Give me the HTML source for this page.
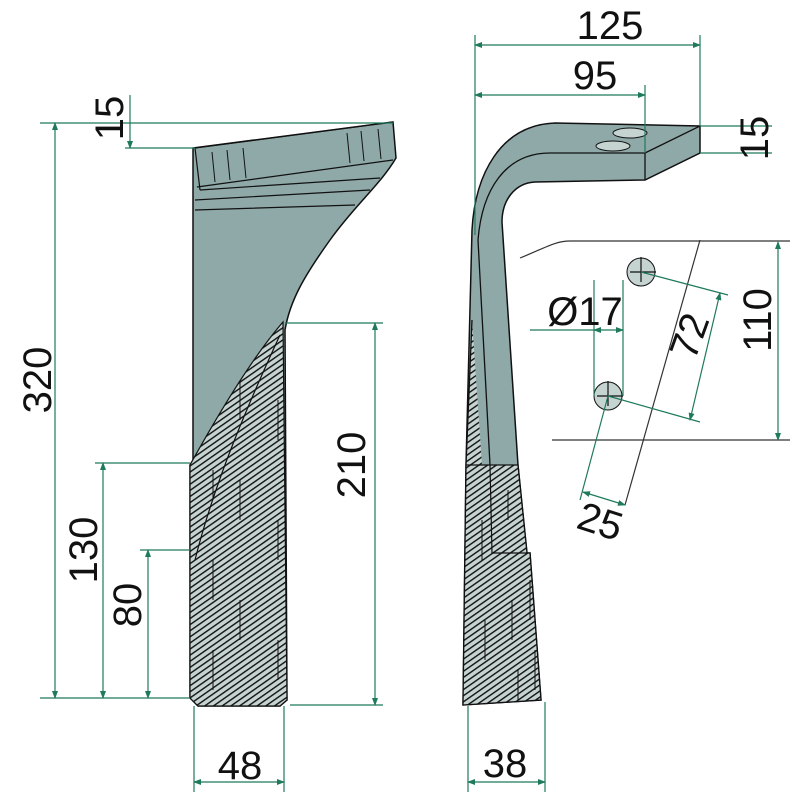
<!DOCTYPE html>
<html><head><style>html,body{margin:0;padding:0;background:#fff}svg{display:block}</style></head>
<body>
<svg width="800" height="800" viewBox="0 0 800 800" xmlns="http://www.w3.org/2000/svg" font-family="Liberation Sans, sans-serif">
<defs>
<pattern id="h" patternUnits="userSpaceOnUse" width="5" height="5" patternTransform="rotate(-35)">
<rect width="5" height="5" fill="#c5d3d1"/>
<line x1="0" y1="0.7" x2="5" y2="0.7" stroke="#111" stroke-width="1.4"/>
</pattern>
<marker id="a" markerWidth="8" markerHeight="8" refX="7" refY="3" orient="auto-start-reverse" markerUnits="userSpaceOnUse"><path d="M0,0 L8,3 L0,6 z" fill="#1f7a5c"/></marker>
</defs>

<!-- LEFT PART -->
<path d="M193,148 L393,122 L396,158 C380,185 355,205 330,240 C305,275 290,300 285,330 L287,700 L280,706 L198,706 L190,698 L190,465 L193,460 Z" fill="#8fa9a8" stroke="#111" stroke-width="1.5"/>
<path d="M283,322 L287,700 L280,706 L198,706 L190,698 L190,465 C215,420 250,360 283,322 Z" fill="url(#h)" stroke="#111" stroke-width="1.2"/>
<path d="M280,335 C250,400 215,480 195,560" fill="none" stroke="#111" stroke-width="1.2"/>
<path d="M213,470 L213,500 M213,560 L213,600 M213,650 L213,690 M240,380 L240,420 M240,480 L240,520 M240,600 L240,640 M278,400 L278,440 M278,520 L278,560 M278,640 L278,680" stroke="#111" stroke-width="1"/>
<path d="M195,148 L393,122 M197,187 L393,160 M200,190 L380,178 M195,200 L370,190 M195,210 L355,205 M195,148 L200,190" fill="none" stroke="#111" stroke-width="1.2"/>
<path d="M212,152 L215,182 M227,150 L230,180 M243,148 L246,178 M347,133 L350,163 M361,131 L364,161 M378,129 L381,159" stroke="#111" stroke-width="1"/>

<!-- RIGHT PART -->
<path d="M472,230 C475,175 500,125 555,123 L700,126 L700,153 L645,180 L535,182 C515,183 502,200 502,222 L518,465 L527,553 L530,553 L541,700 L463,705 L466,465 Z" fill="#8fa9a8" stroke="#111" stroke-width="1.5"/>
<path d="M472,320 L466,465 L463,705 L541,700 L530,553 L527,553 L518,465 L482,465 Z" fill="url(#h)" stroke="none"/>
<path d="M463,705 L541,700 L530,553 L527,553 L518,465 L466,465 M472,320 L466,465 L463,705" fill="none" stroke="#111" stroke-width="1.3"/>
<path d="M645,153 L700,126 M645,153 L645,180 M645,153 L550,153 C505,153 482,190 478,240 L490,465" fill="none" stroke="#111" stroke-width="1.3"/>
<ellipse cx="630" cy="133" rx="17" ry="5" fill="#c5d3d1" stroke="#111"/>
<ellipse cx="613" cy="146" rx="17" ry="5" fill="#c5d3d1" stroke="#111"/>
<path d="M490,465 L492,553 L527,553" fill="none" stroke="#111" stroke-width="1.2"/>
<path d="M508,490 L508,520 M512,600 L512,640 M518,670 L518,700 M482,520 L482,560 M485,620 L485,660 M530,580 L530,620 M535,650 L535,690" stroke="#111" stroke-width="1"/>

<!-- detail -->
<path d="M520,258 C545,248 555,241 570,241 L790,241 M552,440 L790,440 M700,240 L625,505" fill="none" stroke="#333" stroke-width="1.2"/>
<circle cx="641" cy="272" r="14" fill="#c5d3d1" stroke="#111"/>
<circle cx="608" cy="396" r="14" fill="#c5d3d1" stroke="#111"/>
<path d="M641,257 L641,282 M630,272 L656,272 M608,381 L608,406 M597,396 L623,396" stroke="#111" stroke-width="1.2"/>

<g stroke="#1f7a5c" stroke-width="1.2" fill="none">
<line x1="40" y1="123" x2="393" y2="123"/>
<line x1="40" y1="698" x2="190" y2="698"/>
<line x1="55" y1="123" x2="55" y2="698" marker-start="url(#a)" marker-end="url(#a)"/>
<line x1="125" y1="148" x2="195" y2="148"/>
<line x1="130" y1="95" x2="130" y2="148" marker-end="url(#a)"/>
<line x1="95" y1="463" x2="190" y2="463"/>
<line x1="103" y1="463" x2="103" y2="698" marker-start="url(#a)" marker-end="url(#a)"/>
<line x1="140" y1="550" x2="190" y2="550"/>
<line x1="148" y1="550" x2="148" y2="698" marker-start="url(#a)" marker-end="url(#a)"/>
<line x1="285" y1="323" x2="383" y2="323"/>
<line x1="290" y1="705" x2="383" y2="705"/>
<line x1="375" y1="323" x2="375" y2="705" marker-start="url(#a)" marker-end="url(#a)"/>
<line x1="194" y1="706" x2="194" y2="792"/>
<line x1="284" y1="706" x2="284" y2="792"/>
<line x1="194" y1="782" x2="284" y2="782" marker-start="url(#a)" marker-end="url(#a)"/>
<line x1="475" y1="35" x2="475" y2="235"/>
<line x1="700" y1="35" x2="700" y2="126"/>
<line x1="475" y1="45" x2="700" y2="45" marker-start="url(#a)" marker-end="url(#a)"/>
<line x1="645" y1="85" x2="645" y2="153"/>
<line x1="475" y1="95" x2="645" y2="95" marker-start="url(#a)" marker-end="url(#a)"/>
<line x1="700" y1="126" x2="772" y2="126"/>
<line x1="700" y1="153" x2="772" y2="153"/>
<line x1="778" y1="242" x2="778" y2="440" marker-start="url(#a)" marker-end="url(#a)"/>
<line x1="641" y1="272" x2="728" y2="295"/>
<line x1="608" y1="396" x2="700" y2="422"/>
<line x1="720" y1="293" x2="690" y2="420" marker-start="url(#a)" marker-end="url(#a)"/>
<line x1="530" y1="330" x2="594" y2="330"/>
<line x1="594" y1="280" x2="594" y2="396"/>
<line x1="623" y1="280" x2="623" y2="396"/>
<line x1="594" y1="330" x2="623" y2="330" marker-start="url(#a)" marker-end="url(#a)"/>
<line x1="608" y1="396" x2="580" y2="500"/>
<line x1="583" y1="492" x2="625" y2="505" marker-start="url(#a)" marker-end="url(#a)"/>
<line x1="468" y1="706" x2="468" y2="792"/>
<line x1="545" y1="702" x2="545" y2="792"/>
<line x1="468" y1="782" x2="545" y2="782" marker-start="url(#a)" marker-end="url(#a)"/>
</g>

<g font-size="40" fill="#111" text-anchor="middle" dominant-baseline="central">
<text transform="translate(38,380) rotate(-90)">320</text>
<text transform="translate(110,118) rotate(-90)">15</text>
<text transform="translate(84,550) rotate(-90)">130</text>
<text transform="translate(128,605) rotate(-90)">80</text>
<text transform="translate(352,465) rotate(-90)">210</text>
<text x="240" y="766">48</text>
<text x="610" y="26">125</text>
<text x="595" y="76">95</text>
<text transform="translate(755,138) rotate(-90)">15</text>
<text transform="translate(758,320) rotate(-90)">110</text>
<text transform="translate(690,336) rotate(-70)">72</text>
<text x="585" y="312">Ø17</text>
<text transform="translate(600,522) rotate(18)">25</text>
<text x="505" y="764">38</text>
</g>
</svg>
</body></html>
